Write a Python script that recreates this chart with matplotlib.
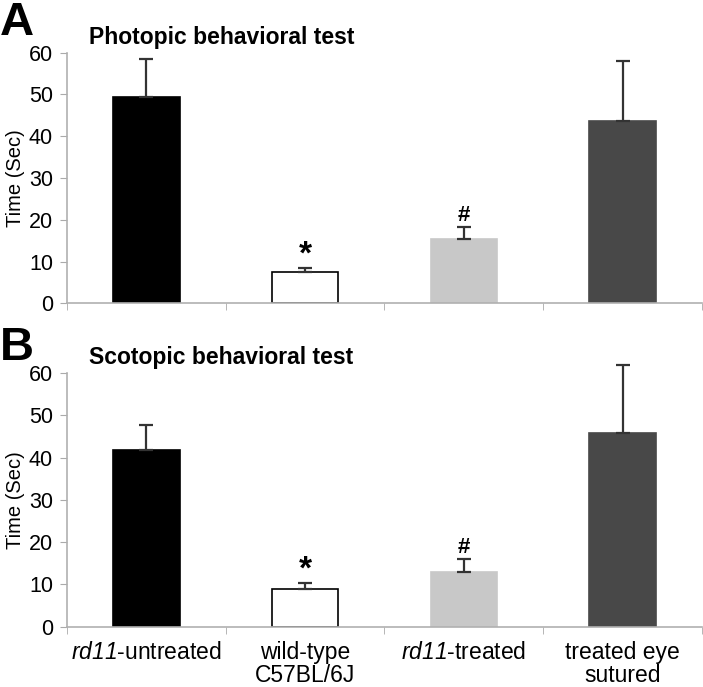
import numpy as np
import matplotlib
matplotlib.use('Agg')
import matplotlib.pyplot as plt

plt.rcParams['font.family'] = ['Liberation Sans', 'DejaVu Sans']
plt.rcParams['mathtext.fontset'] = 'custom'
plt.rcParams['mathtext.it'] = 'Liberation Sans:italic'
plt.rcParams['mathtext.rm'] = 'Liberation Sans:italic'

#------------------------------------------------------------------------------
# Data
#------------------------------------------------------------------------------
groups = [r'$\it{rd11}$-untreated', 'wild-type\nC57BL/6J',
          r'$\it{rd11}$-treated', 'treated eye\nsutured']
photopic = [49.3, 7.4, 15.4, 43.7]
photopic_err = [9.3, 1.1, 2.9, 14.2]
scotopic = [41.8, 8.8, 13.0, 45.9]
scotopic_err = [6.0, 1.5, 3.0, 16.0]
marks = ['', '*', '#', '']
colors = ['#000000', '#ffffff', '#c8c8c8', '#484848']

fig = plt.figure(figsize=(7.03, 6.87), dpi=100)
ax1 = fig.add_axes([0.0953, 0.5585, 0.9032, 0.3648])
ax2 = fig.add_axes([0.0953, 0.0878, 0.9032, 0.3693])

x = np.arange(len(groups)) + 0.5

def panel(ax, vals, errs, title, show_labels):
    ax.bar(x, vals, width=0.42, color=colors, edgecolor=['k', 'k', '#c8c8c8', '#484848'],
           linewidth=1.2, zorder=2)
    ax.errorbar(x, vals, yerr=[np.zeros(len(vals)), errs], fmt='none', ecolor='#333333',
                elinewidth=1.6, capsize=5, capthick=1.6, clip_on=False, zorder=3)
    for xi, v, e, m in zip(x, vals, errs, marks):
        if m == '*':
            ax.text(xi, v + e - 0.6, m, ha='center', va='bottom', fontsize=24, fontweight='bold')
        elif m == '#':
            ax.text(xi, v + e + 0.3, m, ha='center', va='bottom', fontsize=16, fontweight='bold')
    ax.set_xlim(0, 4)
    ax.set_ylim(0, 60)
    ax.set_yticks(np.arange(0, 61, 10))
    ax.set_xticks(x)
    ax.set_xticks(np.arange(0, 5), minor=True)
    ax.tick_params(axis='x', which='major', length=0, pad=10)
    ax.tick_params(axis='x', which='minor', length=5, color='#aaaaaa')
    ax.tick_params(axis='y', length=5, color='#aaaaaa', labelsize=15.5, pad=5)
    if show_labels:
        ax.set_xticklabels(groups, fontsize=16.5, linespacing=1.05)
    else:
        ax.set_xticklabels([])
    for s in ['top', 'right']:
        ax.spines[s].set_visible(False)
    for s in ['left', 'bottom']:
        ax.spines[s].set_color('#b0b0b0')
        ax.spines[s].set_linewidth(1.2)
    ax.set_ylabel('Time (Sec)', fontsize=14.5, labelpad=3)
    ax.text(0.035, 1.015, title, transform=ax.transAxes, fontsize=16.5, fontweight='bold',
            va='bottom', ha='left')

panel(ax1, photopic, photopic_err, 'Photopic behavioral test', False)
panel(ax2, scotopic, scotopic_err, 'Scotopic behavioral test', True)

fig.text(0.0, 1 - 1 / 687, 'A', fontsize=34, fontweight='bold', va='top', ha='left')
fig.text(0.0, 1 - 326 / 687, 'B', fontsize=34, fontweight='bold', va='top', ha='left')

plt.savefig('out.png', dpi=100)
